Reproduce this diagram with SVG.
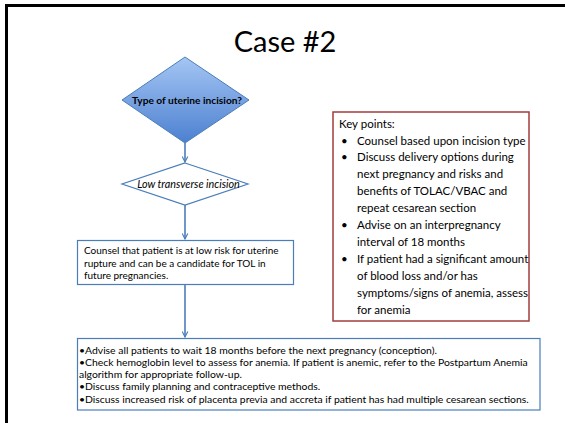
<svg xmlns="http://www.w3.org/2000/svg" width="565" height="423" viewBox="0 0 565 423">
  <style>
    .t { font-family: Lato, "Liberation Sans", sans-serif; fill: #000; }
    .title { font-size: 29px; }
    .key { font-size: 11.5px; }
    .small { font-size: 10px; }
    .tiny { font-size: 10.4px; }
    .flow { fill: #fff; stroke: #4a7ebb; stroke-width: 1.2; }
    .conn { stroke: #4a7ebb; stroke-width: 1.6; fill: none; }
  </style>
  <defs>
    <linearGradient id="blueFill" x1="0" y1="0" x2="0" y2="1">
      <stop offset="0" stop-color="#a5c6f4"/>
      <stop offset="1" stop-color="#4c80d0"/>
    </linearGradient>
    <marker id="arrow" viewBox="0 0 10 10" refX="9" refY="5" markerWidth="7" markerHeight="7" markerUnits="userSpaceOnUse" orient="auto">
      <path d="M1,1 L9,5 L1,9" fill="none" stroke="#4a7ebb" stroke-width="1.6"/>
    </marker>
  </defs>

  <rect width="565" height="423" fill="#fff"/>
  <!-- slide frame -->
  <path d="M6.5,423 V5.5 H565" fill="none" stroke="#000" stroke-width="3"/>

  <text class="t title" x="285" y="52" text-anchor="middle">Case #2</text>

  <g id="connectors">
    <line class="conn" x1="185" y1="143" x2="185" y2="162" marker-end="url(#arrow)"/>
    <line class="conn" x1="185" y1="205" x2="185" y2="239" marker-end="url(#arrow)"/>
    <line class="conn" x1="185" y1="284" x2="185" y2="337" marker-end="url(#arrow)"/>
  </g>

  <g id="decision-incision">
    <polygon points="185,57 249,100 185,143 122,100" fill="url(#blueFill)" stroke="#4a7ebb" stroke-width="1"/>
    <text class="t" x="187" y="103.5" text-anchor="middle" font-size="10.2" font-weight="bold">Type of uterine incision?</text>
  </g>

  <g id="decision-low-transverse">
    <polygon class="flow" points="185,163 248,184 185,205 122,184"/>
    <text class="t" x="188.5" y="187.5" text-anchor="middle" font-size="10.8" font-style="italic">Low transverse incision</text>
  </g>

  <g id="counsel-box">
    <rect class="flow" x="77.5" y="240.5" width="216" height="44"/>
    <text class="t small" x="84" y="254">Counsel that patient is at low risk for uterine</text>
    <text class="t small" x="84" y="266.5">rupture and can be a candidate for TOL in</text>
    <text class="t small" x="84" y="279">future pregnancies.</text>
  </g>

  <g id="advice-box">
    <rect class="flow" x="77.5" y="338.5" width="462.5" height="71.5"/>
    <text class="t tiny" x="79" y="353.5">•Advise all patients to wait 18 months before the next pregnancy (conception).</text>
    <text class="t tiny" x="79" y="365.8">•Check hemoglobin level to assess for anemia. If patient is anemic, refer to the Postpartum Anemia</text>
    <text class="t tiny" x="79" y="378">algorithm for appropriate follow-up.</text>
    <text class="t tiny" x="79" y="390.2">•Discuss family planning and contraceptive methods.</text>
    <text class="t tiny" x="79" y="402.5">•Discuss increased risk of placenta previa and accreta if patient has had multiple cesarean sections.</text>
  </g>

  <g id="key-points">
    <rect x="333" y="112" width="196" height="209" fill="#fff" stroke="#a23d3c" stroke-width="1.5"/>
    <text class="t key" x="339" y="127.5">Key points:</text>
    <g class="t key">
      <text x="341" y="144.5">•</text>
      <text x="357" y="144.5">Counsel based upon incision type</text>
      <text x="341" y="161.4">•</text>
      <text x="357" y="161.4">Discuss delivery options during</text>
      <text x="357" y="178.4">next pregnancy and risks and</text>
      <text x="357" y="195.4">benefits of TOLAC/VBAC and</text>
      <text x="357" y="212.4">repeat cesarean section</text>
      <text x="341" y="229.3">•</text>
      <text x="357" y="229.3">Advise on an interpregnancy</text>
      <text x="357" y="246.3">interval of 18 months</text>
      <text x="341" y="263.3">•</text>
      <text x="357" y="263.3">If patient had a significant amount</text>
      <text x="357" y="280.2">of blood loss and/or has</text>
      <text x="357" y="297.2">symptoms/signs of anemia, assess</text>
      <text x="357" y="314.2">for anemia</text>
    </g>
  </g>
</svg>
